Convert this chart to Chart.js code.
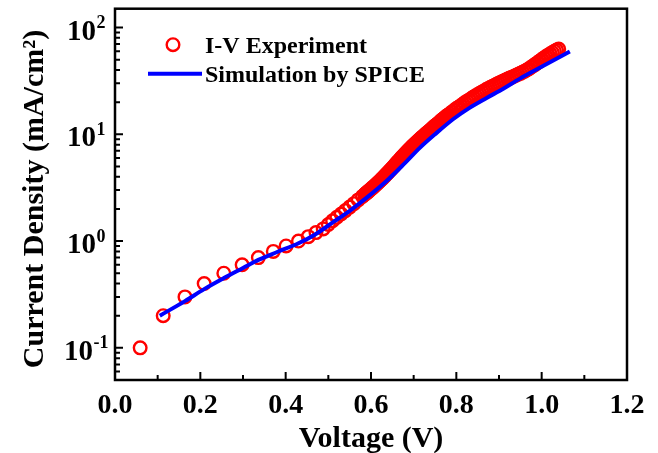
<!DOCTYPE html>
<html>
<head>
<meta charset="utf-8">
<script src="https://cdn.jsdelivr.net/npm/chart.js@4.4.1/dist/chart.umd.min.js"></script>
<style>
  html, body { margin: 0; padding: 0; background: #fff; }
</style>
</head>
<body>
<canvas id="iv" width="658" height="453"></canvas>
<script>
// measured J-V sweep (V, mA/cm^2)
const expVoltage = [
  0.059, 0.113, 0.164, 0.209, 0.255, 0.298, 0.336, 0.371, 0.401, 0.430, 0.453, 0.471, 0.488,
  0.500, 0.510, 0.520, 0.530, 0.540, 0.550, 0.560, 0.570, 0.580,
  0.5850, 0.5875, 0.5900, 0.5925, 0.5950, 0.5975, 0.6000, 0.6025, 0.6050, 0.6075,
  0.6100, 0.6125, 0.6150, 0.6175, 0.6200, 0.6225, 0.6250, 0.6275, 0.6300, 0.6325,
  0.6350, 0.6375, 0.6400, 0.6425, 0.6450, 0.6475, 0.6500, 0.6525, 0.6550, 0.6575,
  0.6600, 0.6625, 0.6650, 0.6675, 0.6700, 0.6725, 0.6750, 0.6775, 0.6800, 0.6825,
  0.6850, 0.6875, 0.6900, 0.6925, 0.6950, 0.6975, 0.7000, 0.7025, 0.7050, 0.7075,
  0.7100, 0.7125, 0.7150, 0.7175, 0.7200, 0.7225, 0.7250, 0.7275, 0.7300, 0.7325,
  0.7350, 0.7375, 0.7400, 0.7425, 0.7450, 0.7475, 0.7500, 0.7525, 0.7550, 0.7575,
  0.7600, 0.7625, 0.7650, 0.7675, 0.7700, 0.7725, 0.7750, 0.7775, 0.7800,
  0.785, 0.790, 0.795, 0.800, 0.805, 0.810, 0.815, 0.820, 0.825, 0.830,
  0.835, 0.840, 0.845, 0.850, 0.855, 0.860, 0.865, 0.870, 0.875, 0.880,
  0.885, 0.890, 0.895, 0.900, 0.905, 0.910, 0.915, 0.920, 0.925, 0.930,
  0.935, 0.940, 0.945, 0.950, 0.955, 0.960, 0.965, 0.970, 0.975, 0.980,
  0.985, 0.990, 0.995, 1.000, 1.005, 1.010, 1.015, 1.020, 1.025, 1.030,
  1.035, 1.040
];
const expCurrent = [
  0.10, 0.20, 0.30, 0.40, 0.50, 0.60, 0.70, 0.80, 0.90, 1.00, 1.10, 1.20, 1.30,
  1.43, 1.55, 1.67, 1.79, 1.93, 2.08, 2.24, 2.43, 2.62,
  2.73, 2.78, 2.84, 2.89, 2.95, 3.01, 3.07, 3.13, 3.20, 3.26,
  3.33, 3.40, 3.48, 3.55, 3.63, 3.71, 3.80, 3.89, 3.98, 4.08,
  4.18, 4.28, 4.39, 4.49, 4.60, 4.72, 4.84, 4.96, 5.09, 5.23,
  5.37, 5.51, 5.65, 5.80, 5.96, 6.11, 6.27, 6.42, 6.58, 6.74,
  6.90, 7.07, 7.24, 7.41, 7.59, 7.76, 7.94, 8.12, 8.30, 8.47,
  8.65, 8.83, 9.02, 9.21, 9.40, 9.59, 9.79, 9.99, 10.2, 10.4,
  10.6, 10.8, 11.0, 11.25, 11.5, 11.75, 12.0, 12.2, 12.4, 12.65,
  12.9, 13.2, 13.5, 13.75, 14.0, 14.25, 14.5, 14.8, 15.1,
  15.6, 16.2, 16.8, 17.4, 17.9, 18.5, 19.1, 19.8, 20.4, 21.0,
  21.6, 22.3, 22.9, 23.6, 24.2, 24.9, 25.5, 26.2, 26.9, 27.5,
  28.2, 28.8, 29.5, 30.2, 30.9, 31.6, 32.2, 32.9, 33.6, 34.3,
  35.0, 35.7, 36.5, 37.2, 38.1, 39.0, 40.0, 41.1, 42.4, 43.8,
  45.2, 46.8, 48.4, 50.1, 51.8, 53.5, 55.1, 56.8, 58.3, 60.0,
  61.5, 62.8
];

// SPICE fit
const simVoltage = [0.105, 0.164, 0.209, 0.255, 0.300, 0.336, 0.380, 0.430, 0.470, 0.512, 0.550, 0.590,
  0.637, 0.680, 0.715, 0.750, 0.793, 0.830, 0.871, 0.910, 0.949, 0.990, 1.027, 1.066];
const simCurrent = [0.20, 0.274, 0.355, 0.45, 0.56, 0.667, 0.79, 0.953, 1.16, 1.51, 1.92, 2.55,
  3.67, 5.4, 7.5, 10.0, 13.9, 17.6, 21.9, 26.7, 33.2, 40.8, 49.1, 59.6];

const xTickValues = [0, 0.2, 0.4, 0.6, 0.8, 1.0, 1.2];
const xTickLabels = ['0.0', '0.2', '0.4', '0.6', '0.8', '1.0', '1.2'];
const yTickValues = [0.1, 1, 10, 100];
const yTickExponents = ['-1', '0', '1', '2'];

const SERIF = '"Liberation Serif", "Times New Roman", serif';
const RED = '#ff0000';
const BLUE = '#0000ff';

const expPoints = expVoltage.map((v, i) => ({ x: v, y: expCurrent[i] }));
const simPoints = simVoltage.map((v, i) => ({ x: v, y: simCurrent[i] }));

// frame, inward ticks, tick labels, axis titles and legend
const decorations = {
  id: 'decorations',
  afterDatasetsDraw(chart) {
    const { ctx, chartArea: a, scales: { x, y } } = chart;
    ctx.save();
    ctx.strokeStyle = '#000';
    ctx.fillStyle = '#000';

    // x ticks every 0.1, long ones on labelled values
    ctx.lineWidth = 2;
    ctx.beginPath();
    const nx = Math.round((x.max - x.min) / 0.1);
    for (let i = 1; i < nx; i++) {
      const px = x.getPixelForValue(x.min + i * 0.1);
      const len = i % 2 === 0 ? 8 : 5;
      ctx.moveTo(px, a.bottom);
      ctx.lineTo(px, a.bottom - len);
    }
    // y ticks at 1..9 x 10^k
    const e0 = Math.floor(Math.log10(y.min));
    const e1 = Math.ceil(Math.log10(y.max));
    for (let e = e0; e <= e1; e++) {
      for (let m = 1; m <= 9; m++) {
        const v = m * Math.pow(10, e);
        if (v <= y.min || v >= y.max) continue;
        const py = y.getPixelForValue(v);
        const len = m === 1 ? 8 : 5;
        ctx.moveTo(a.left, py);
        ctx.lineTo(a.left + len, py);
      }
    }
    ctx.stroke();

    ctx.lineWidth = 2.5;
    ctx.strokeRect(a.left, a.top, a.width, a.height);

    // x tick labels
    ctx.font = 'bold 28px ' + SERIF;
    ctx.textAlign = 'center';
    ctx.textBaseline = 'alphabetic';
    xTickValues.forEach((v, i) => {
      ctx.fillText(xTickLabels[i], x.getPixelForValue(v), a.bottom + 33);
    });

    // y tick labels as 10^n
    ctx.textAlign = 'left';
    yTickValues.forEach((v, i) => {
      const py = y.getPixelForValue(v);
      ctx.font = 'bold 29px ' + SERIF;
      const wBase = ctx.measureText('10').width;
      ctx.font = 'bold 18px ' + SERIF;
      const wExp = ctx.measureText(yTickExponents[i]).width;
      const x0 = a.left - 29 - (wBase + wExp) / 2;
      ctx.font = 'bold 29px ' + SERIF;
      ctx.fillText('10', x0, py + 12);
      ctx.font = 'bold 18px ' + SERIF;
      ctx.fillText(yTickExponents[i], x0 + wBase + 0.5, py + 0.5);
    });

    // axis titles
    ctx.font = 'bold 30px ' + SERIF;
    ctx.textAlign = 'center';
    ctx.fillText('Voltage (V)', (a.left + a.right) / 2, 447);
    ctx.save();
    ctx.translate(43, 199);
    ctx.rotate(-Math.PI / 2);
    ctx.fillText('Current Density (mA/cm²)', 0, 0);
    ctx.restore();

    // legend
    const exp = chart.data.datasets[1];
    const sim = chart.data.datasets[0];
    ctx.font = 'bold 24px ' + SERIF;
    ctx.textAlign = 'left';
    ctx.strokeStyle = exp.borderColor;
    ctx.lineWidth = exp.borderWidth;
    ctx.beginPath();
    ctx.arc(a.left + 58, a.top + 36, exp.pointRadius, 0, Math.PI * 2);
    ctx.stroke();
    ctx.fillText(exp.label, a.left + 90, a.top + 44);

    ctx.strokeStyle = sim.borderColor;
    ctx.lineWidth = sim.borderWidth;
    ctx.beginPath();
    ctx.moveTo(a.left + 33, a.top + 65);
    ctx.lineTo(a.left + 87, a.top + 65);
    ctx.stroke();
    ctx.fillText(sim.label, a.left + 90, a.top + 73);

    ctx.restore();
  }
};

new Chart(document.getElementById('iv'), {
  type: 'scatter',
  data: {
    datasets: [
      {
        label: 'Simulation by SPICE',
        data: simPoints,
        showLine: true,
        borderColor: BLUE,
        borderWidth: 4,
        pointRadius: 0,
        cubicInterpolationMode: 'monotone',
        fill: false,
        order: 0
      },
      {
        label: 'I-V Experiment',
        data: expPoints,
        showLine: false,
        borderColor: RED,
        backgroundColor: 'rgba(0,0,0,0)',
        borderWidth: 2.4,
        pointRadius: 6.3,
        order: 1
      }
    ]
  },
  options: {
    responsive: false,
    animation: false,
    devicePixelRatio: 1,
    layout: { padding: { top: 6, right: 31, bottom: 0, left: 0 } },
    scales: {
      x: {
        type: 'linear',
        min: 0,
        max: 1.2,
        grid: { display: false },
        border: { display: false },
        ticks: { display: false },
        afterFit(scale) { scale.height = 73; }
      },
      y: {
        type: 'logarithmic',
        min: 0.05,
        max: 150,
        grid: { display: false },
        border: { display: false },
        ticks: { display: false },
        afterFit(scale) { scale.width = 115; }
      }
    },
    plugins: {
      legend: { display: false },
      tooltip: { enabled: false }
    }
  },
  plugins: [decorations]
});
</script>
</body>
</html>
